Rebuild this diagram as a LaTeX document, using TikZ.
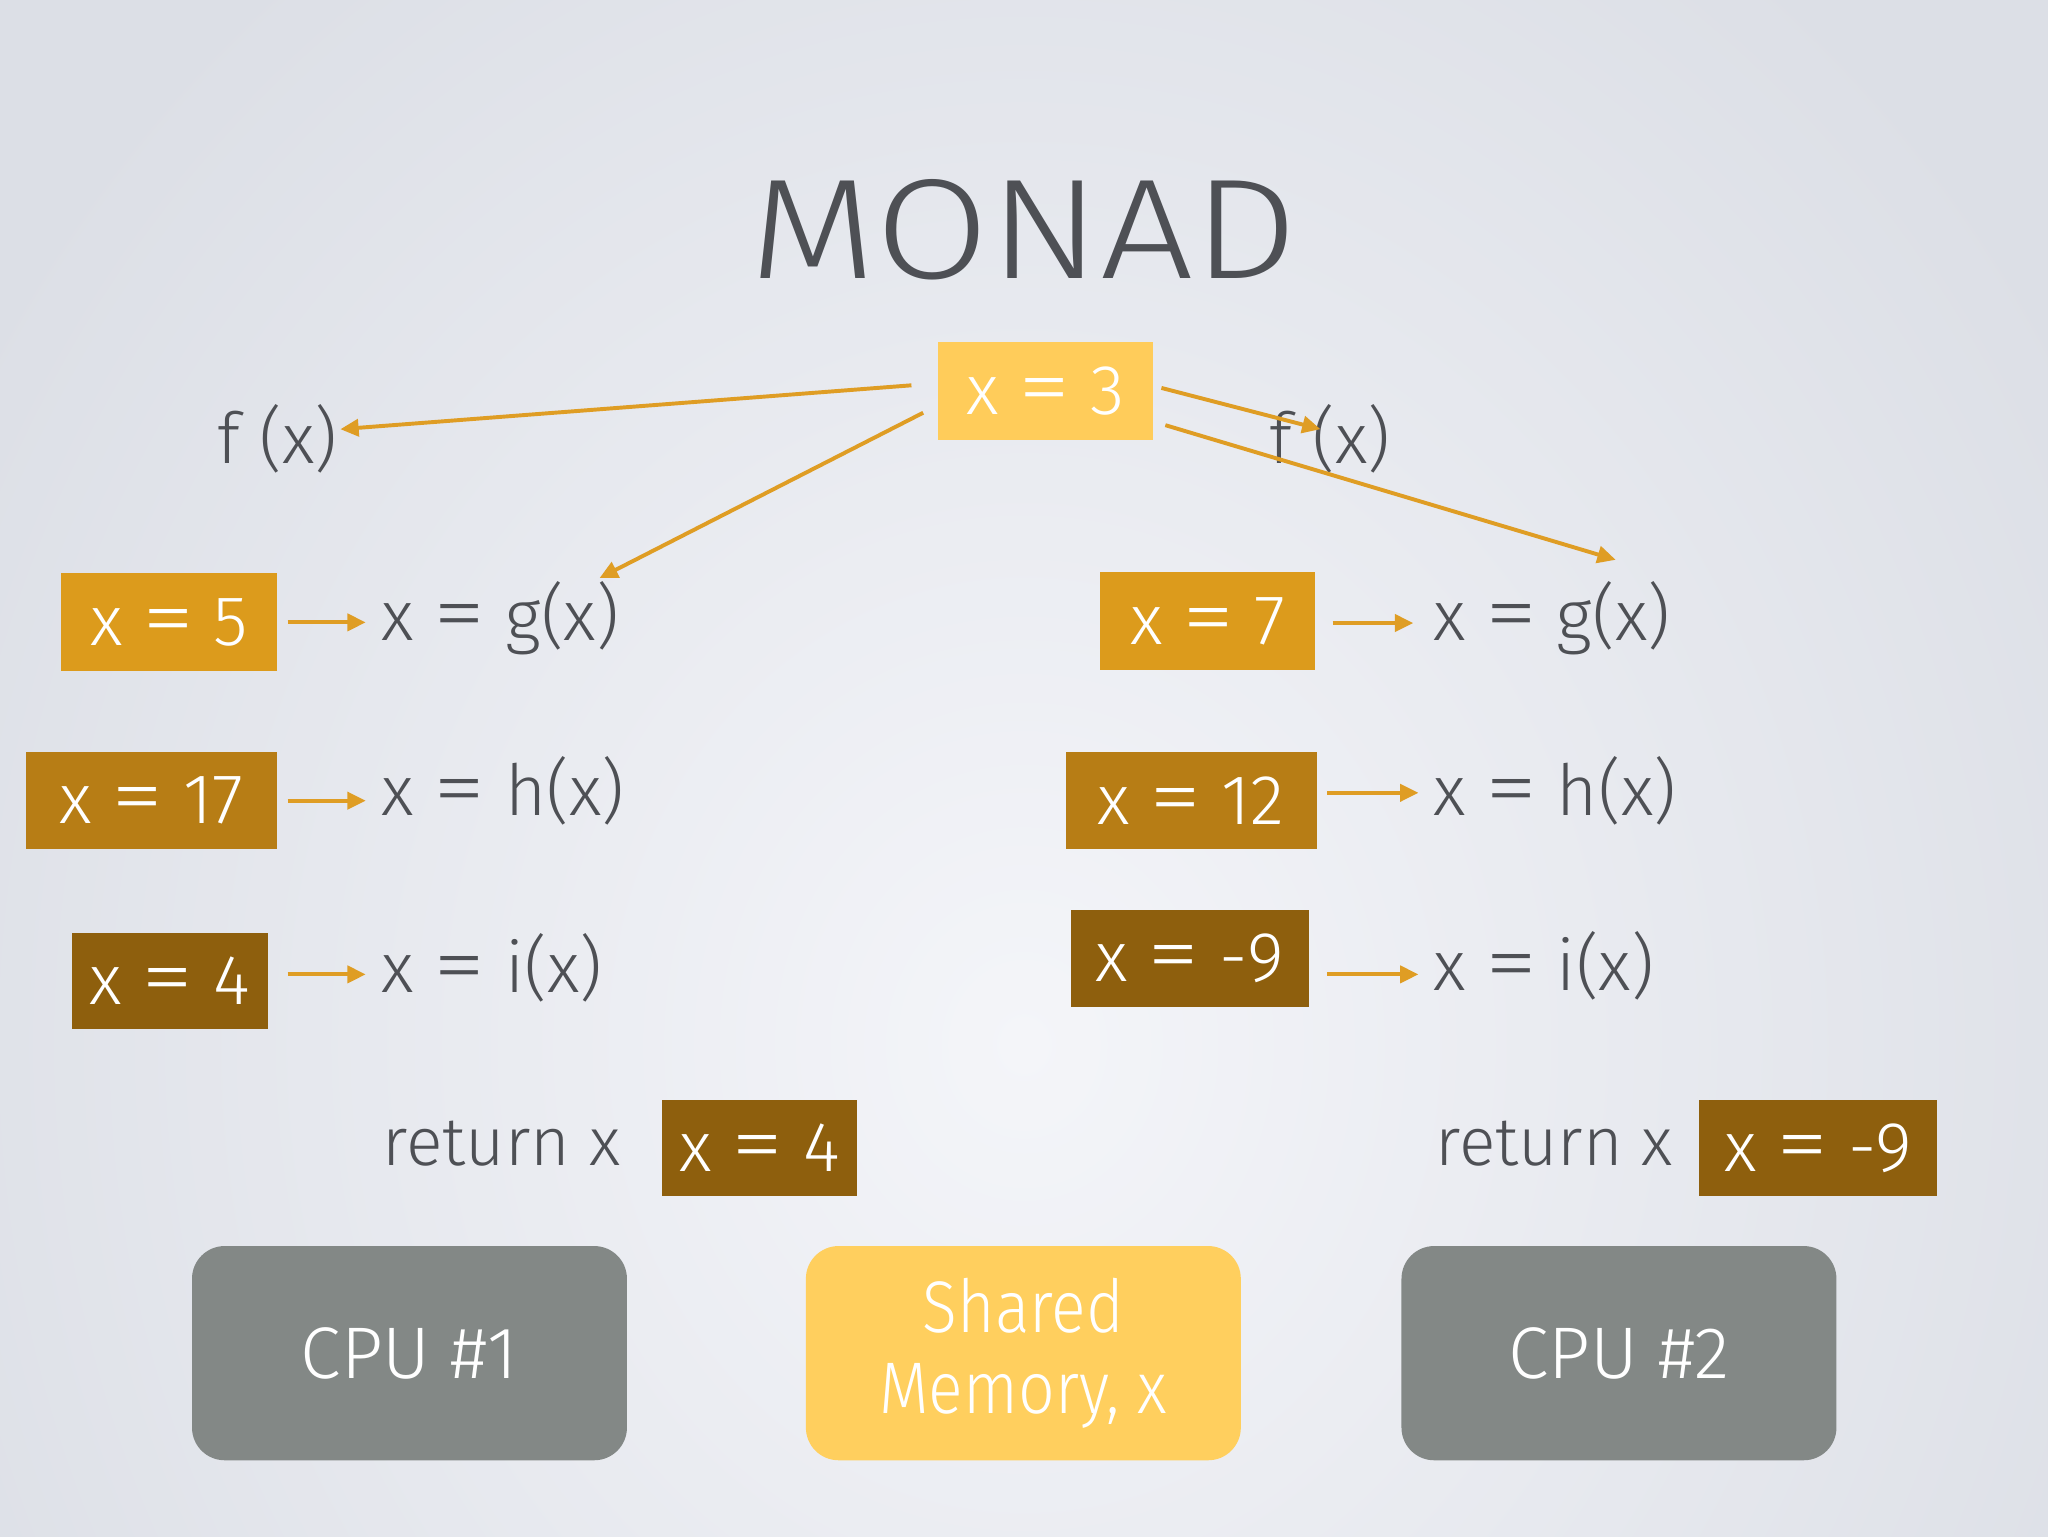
\documentclass[tikz,border=0pt]{standalone}
\usepackage{graphicx}
\usepackage{fontspec}
\setmainfont{Fira Sans Light}
\newfontfamily\titlefont{Fira Sans Light}[FakeStretch=1.16]
\newfontfamily\memfont{Fira Sans Light}[FakeStretch=0.88]
\newcommand{\eqsign}{\scalebox{1.5}[1.15]{=}}
\usetikzlibrary{arrows.meta,calc}
\definecolor{bgin}{HTML}{F4F5F9}
\definecolor{bgout}{HTML}{DCDFE6}
\definecolor{txtgray}{HTML}{4E5055}
\definecolor{arrcol}{HTML}{DF9D24}
\definecolor{boxlight}{HTML}{FFCC5A}
\definecolor{boxone}{HTML}{DC9B1C}
\definecolor{boxtwo}{HTML}{B77D15}
\definecolor{boxthree}{HTML}{8E5F0D}
\definecolor{cpugray}{HTML}{838886}
\definecolor{memyel}{HTML}{FFCF5E}
\tikzset{
  valbox/.style={rectangle, inner sep=0pt, text=white, font=\fontsize{54}{60}\selectfont},
  lbl/.style={inner sep=0pt, text=txtgray, font=\fontsize{54}{60}\selectfont, anchor=base west},
  bigbox/.style={rectangle, rounded corners=25pt, inner sep=0pt, minimum width=333pt, minimum height=164pt, text=white, align=center, font=\fontsize{56}{62}\selectfont},
  arr/.style={draw=arrcol, line width=3pt, -{Triangle[length=14pt,width=13pt]}}
}
\begin{document}
\begin{tikzpicture}[x=1pt,y=-1pt]
\useasboundingbox (0,0) rectangle (1568,1176);
\shade[inner color=bgin, outer color=bgout] (-150,-250) rectangle (1718,1850);

\node[inner sep=0pt, text=txtgray, anchor=base, font=\titlefont\fontsize{109}{120}\selectfont] (title) at (784,213) {MONAD};

\node[valbox, fill=boxlight, minimum width=165pt, minimum height=75pt] (x3) at (800.5,299.5) {x \eqsign{} 3};

\node[lbl] (fl) at (166,355) {f (x)};
\node[lbl] (fr) at (972,355) {f (x)};

\node[valbox, fill=boxone, minimum width=165pt, minimum height=75pt] (b5) at (129.5,476.5) {x \eqsign{} 5};
\node[valbox, fill=boxtwo, minimum width=192pt, minimum height=74pt] (b17) at (116,613) {x \eqsign{} 17};
\node[valbox, fill=boxthree, minimum width=150pt, minimum height=74pt] (b4) at (130,751) {x \eqsign{} 4};

\node[valbox, fill=boxone, minimum width=165pt, minimum height=75pt] (b7) at (924.5,475.5) {x \eqsign{} 7};
\node[valbox, fill=boxtwo, minimum width=192pt, minimum height=74pt] (b12) at (912,613) {x \eqsign{} 12};
\node[valbox, fill=boxthree, minimum width=182pt, minimum height=74pt] (bm9) at (911,734) {x \eqsign{} -9};

\node[lbl] (g1) at (292,490) {x \eqsign{} g(x)};
\node[lbl] (h1) at (292,624) {x \eqsign{} h(x)};
\node[lbl] (i1) at (292,760) {x \eqsign{} i(x)};
\node[lbl] (g2) at (1097,490) {x \eqsign{} g(x)};
\node[lbl] (h2) at (1097,624) {x \eqsign{} h(x)};
\node[lbl] (i2) at (1097,758) {x \eqsign{} i(x)};

\node[lbl, font=\fontsize{52}{58}\selectfont] (ret1) at (293,892) {return x};
\node[lbl, font=\fontsize{52}{58}\selectfont] (ret2) at (1099,892) {return x};
\node[valbox, fill=boxthree, minimum width=149pt, minimum height=74pt] (r4) at (581.5,879) {x \eqsign{} 4};
\node[valbox, fill=boxthree, minimum width=182pt, minimum height=74pt] (rm9) at (1392,879) {x \eqsign{} -9};

\node[bigbox, fill=cpugray] (cpu1) at (313.5,1036) {CPU \#1};
\node[bigbox, fill=memyel, font=\memfont\fontsize{56}{62}\selectfont] (mem) at (783.5,1036) {Shared\\Memory, x};
\node[bigbox, fill=cpugray] (cpu2) at (1239.5,1036) {CPU \#2};

% arrows from x = 3
\draw[arr] ([shift={(-20,-4.5)}]x3.west) -- ([shift={(2,-7.5)}]fl.east);
\draw[arr] ([shift={(-11,16.5)}]x3.west) -- ([shift={(167,-2)}]g1.north west);
\draw[arr] ([shift={(6,-2.5)}]x3.east) -- ([shift={(39,-7.5)}]fr.west);
\draw[arr] ([shift={(9,26)}]x3.east) -- ([shift={(140,-16)}]g2.north west);

% short arrows
\draw[arr] ($(b5.east)+(8,0)$) -- ($(b5.east -| g1.west)+(-12,0)$);
\draw[arr] ($(b17.east)+(8,0)$) -- ($(b17.east -| h1.west)+(-12,0)$);
\draw[arr] ($(b4.east)+(15,-5)$) -- ($(b4.east -| i1.west)+(-12,-5)$);
\draw[arr] ($(b7.east)+(13,1.5)$) -- ($(b7.east -| g2.west)+(-15,1.5)$);
\draw[arr] ($(b12.east)+(8,-6)$) -- ($(b12.east -| h2.west)+(-11,-6)$);
\draw[arr] ($(bm9.east)+(14,12)$) -- ($(bm9.east -| i2.west)+(-11,12)$);
\end{tikzpicture}
\end{document}
